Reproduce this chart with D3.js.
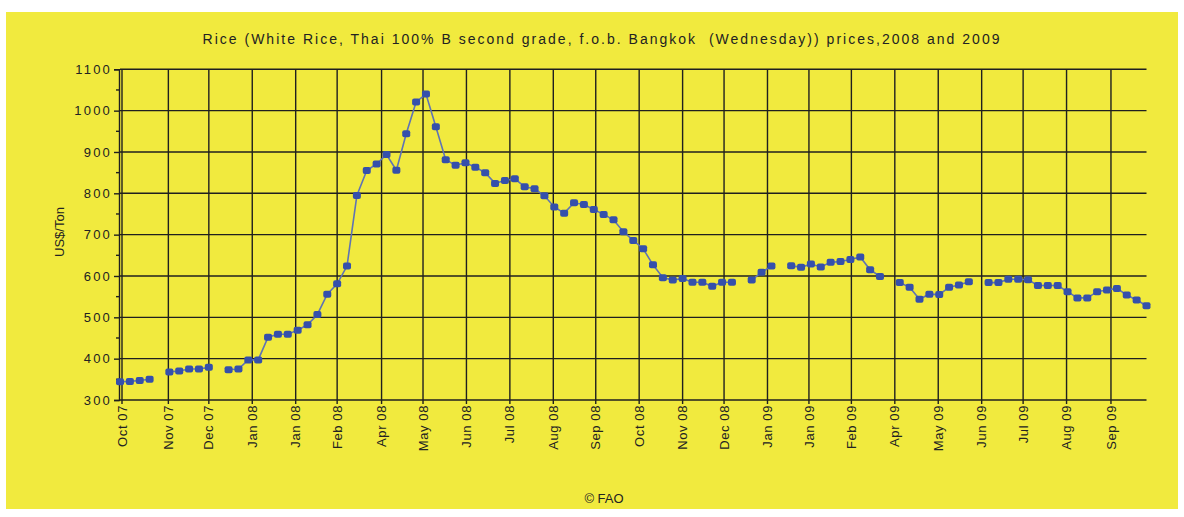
<!DOCTYPE html>
<html>
<head>
<meta charset="utf-8">
<script src="https://cdn.jsdelivr.net/npm/d3@7"></script>
<style>
  body { margin: 0; background: #fff; }
  svg { display: block; font-family: "Liberation Sans", Arial, sans-serif; }
</style>
</head>
<body>
<svg id="chart" width="1184" height="517"></svg>
<script>
// weekly Wednesday prices, Oct 2007 .. Sep 2009 (null = no quote that week)
const weekPrices = [
  344, 345, 347, 350, null, 368, 370, 375, 375, 379,
  null, 373, 375, 397, 397, 452, 459, 459, 469, 482,
  507, 556, 581, 624, 795, 855, 871, 894, 856, 944,
  1021, 1040, 961, 881, 868, 874, 863, 850, 824, 831,
  835, 816, 811, 794, 767, 752, 777, 773, 761, 749,
  736, 707, 686, 666, 627, 596, 590, 594, 585, 585,
  575, 585, 585, null, 590, 609, 624, null, 625, 621,
  629, 622, 633, 635, 640, 646, 615, 599, null, 584,
  573, 544, 556, 555, 573, 578, 586, null, 584, 584,
  592, 592, 591, 577, 577, 577, 562, 547, 547, 562,
  566, 570, 554, 542, 528
];

// x axis labels and the week they sit on
const tickLabels = ["Oct 07", "Nov 07", "Dec 07", "Jan 08", "Jan 08", "Feb 08", "Apr 08", "May 08",
  "Jun 08", "Jul 08", "Aug 08", "Sep 08", "Oct 08", "Nov 08", "Dec 08", "Jan 09", "Jan 09",
  "Feb 09", "Apr 09", "May 09", "Jun 09", "Jul 09", "Aug 09", "Sep 09"];
const tickWeeks = [0, 4.9, 9.0, 13.4, 17.8, 22.0, 26.5, 30.7, 35.1, 39.5, 43.9, 48.2, 52.6,
  57.0, 61.2, 65.6, 69.8, 74.1, 78.5, 82.9, 87.3, 91.5, 95.9, 100.4];

const yTicks = [300, 400, 500, 600, 700, 800, 900, 1000, 1100];
const yMinor = [350, 450, 550, 650, 750, 850, 950, 1050];

const titleText = "Rice (White Rice, Thai 100% B second grade, f.o.b. Bangkok  (Wednesday)) prices,2008 and 2009";

const svg = d3.select("#chart");
const margin = { left: 120, right: 1146.5, top: 69.3, bottom: 400 };

svg.append("rect")
  .attr("x", 6).attr("y", 12)
  .attr("width", 1172).attr("height", 497)
  .attr("fill", "#f1ea3e");

const x = d3.scaleLinear().domain([0, weekPrices.length - 1]).range([margin.left, margin.right]);
const y = d3.scaleLinear().domain([300, 1100]).range([margin.bottom, margin.top]);

// grid
const grid = svg.append("g").attr("stroke", "#1f1f1f").attr("stroke-width", 1.4);
grid.selectAll(".hgrid")
  .data(yTicks)
  .enter()
  .append("line")
  .attr("x1", margin.left).attr("x2", margin.right)
  .attr("y1", (d) => y(d)).attr("y2", (d) => y(d));
grid.selectAll(".vgrid")
  .data(tickWeeks)
  .enter()
  .append("line")
  .attr("x1", (d) => x(d) + (d === 0 ? 2 : 0)).attr("x2", (d) => x(d) + (d === 0 ? 2 : 0))
  .attr("y1", margin.top).attr("y2", margin.bottom + 4);

// y axis
const yAxis = svg.append("g").attr("transform", `translate(${margin.left - 1},0)`);
yAxis.call(d3.axisLeft(y).tickValues(yTicks).tickSize(5).tickPadding(2).tickFormat(d3.format("d")));
yAxis.select(".domain").attr("stroke", "#1f1f1f").attr("stroke-width", 1.4);
yAxis.selectAll(".tick line").attr("stroke", "#1f1f1f").attr("stroke-width", 1.4);
yAxis.selectAll(".tick text")
  .attr("font-size", 13).attr("fill", "#222").attr("letter-spacing", 2.2)
  .attr("font-family", "Liberation Sans, Arial, sans-serif");
yAxis.selectAll(".minor")
  .data(yMinor)
  .enter()
  .append("line")
  .attr("x1", -3).attr("x2", 0)
  .attr("y1", (d) => y(d)).attr("y2", (d) => y(d))
  .attr("stroke", "#1f1f1f").attr("stroke-width", 1.4);

// x labels
svg.append("g")
  .selectAll("text")
  .data(tickWeeks)
  .enter()
  .append("text")
  .attr("transform", (d) => `translate(${x(d) + (d === 0 ? 2 : 0)},${margin.bottom + 5}) rotate(-90)`)
  .attr("text-anchor", "end")
  .attr("dy", "0.35em")
  .attr("font-size", 13)
  .attr("letter-spacing", 0.6)
  .attr("fill", "#222")
  .text((d, i) => tickLabels[i]);

// series
const line = d3.line()
  .defined((d) => d != null)
  .x((d, i) => x(i))
  .y((d) => y(d));

svg.append("path")
  .datum(weekPrices)
  .attr("fill", "none")
  .attr("stroke", "#5f73b4")
  .attr("stroke-width", 1.6)
  .attr("d", line);

svg.append("g")
  .selectAll("rect")
  .data(weekPrices.map((v, i) => ({ v, i })).filter((d) => d.v != null))
  .enter()
  .append("rect")
  .attr("x", (d) => x(d.i) - 4)
  .attr("y", (d) => y(d.v) - 3.5)
  .attr("width", 8).attr("height", 7)
  .attr("rx", 2)
  .attr("fill", "#3550ab");

// texts
svg.append("text")
  .attr("x", 601).attr("y", 44)
  .attr("text-anchor", "middle")
  .attr("font-size", 14)
  .attr("fill", "#222")
  .attr("textLength", 797)
  .attr("lengthAdjust", "spacing")
  .style("white-space", "pre")
  .text(titleText);

svg.append("text")
  .attr("transform", "translate(64,232) rotate(-90)")
  .attr("text-anchor", "middle")
  .attr("font-size", 13)
  .attr("fill", "#222")
  .text("US$/Ton");

svg.append("text")
  .attr("x", 604).attr("y", 503)
  .attr("text-anchor", "middle")
  .attr("font-size", 13)
  .attr("fill", "#222")
  .text("© FAO");
</script>
</body>
</html>
